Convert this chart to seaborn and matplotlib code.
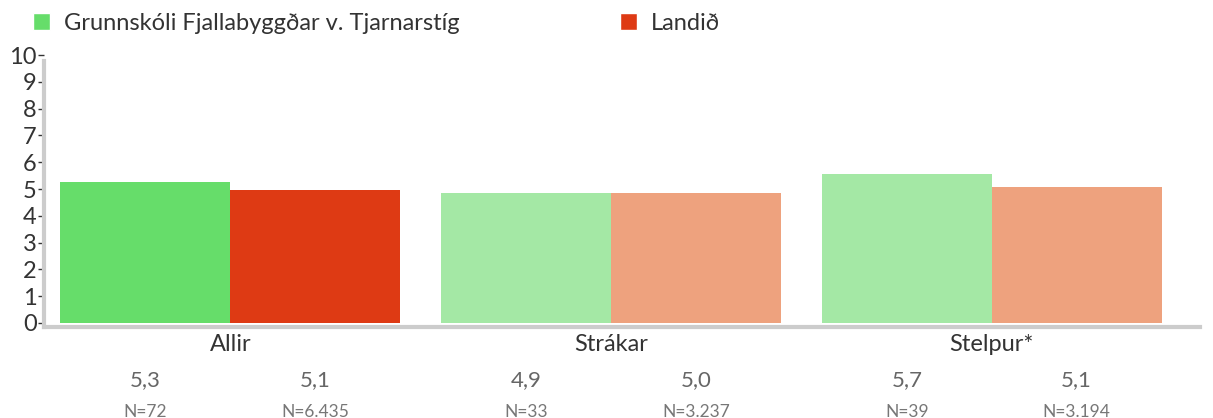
import pandas as pd
import seaborn as sns
import matplotlib
matplotlib.use('Agg')
import matplotlib.pyplot as plt
from matplotlib.patches import Patch

# data
groups = ["Allir", "Strákar", "Stelpur*"]
series = ["Grunnskóli Fjallabyggðar v. Tjarnarstíg", "Landið"]
school_vals = [5.25, 4.85, 5.56]
country_vals = [4.95, 4.85, 5.07]
school_labels = ["5,3", "4,9", "5,7"]
country_labels = ["5,1", "5,0", "5,1"]
school_n = ["N=72", "N=33", "N=39"]
country_n = ["N=6.435", "N=3.237", "N=3.194"]

green, red = "#66dd6a", "#de3a14"
light_green, light_red = "#a4e8a5", "#eea27e"
school_colors = [green, light_green, light_green]
country_colors = [red, light_red, light_red]

df = pd.DataFrame({
    "group": groups * 2,
    "series": [series[0]] * 3 + [series[1]] * 3,
    "value": school_vals + country_vals,
})

sns.set_style("white")
plt.rcParams['font.family'] = ['Lato', 'DejaVu Sans']

fig = plt.figure(figsize=(12.13, 4.18), dpi=100)
ax = fig.add_axes([0.036, 0.218, 0.953, 0.65])

sns.barplot(data=df, x="group", y="value", hue="series", order=groups,
            hue_order=series, palette=[green, red], saturation=1,
            width=0.892, legend=False, ax=ax)

# seaborn orders patches by hue level, then by category
for patch, c in zip(ax.patches, school_colors + country_colors):
    patch.set_facecolor(c)
    patch.set_edgecolor("none")

ax.set_ylim(-0.15, 10)
ax.set_xlim(-0.49, 2.546)
ax.set_yticks(range(0, 11))
ax.tick_params(axis="y", length=4, width=1, color="#333333", labelsize=17,
               labelcolor="#333333", pad=1, left=True)
ax.set_xticks([])
ax.set_xlabel("")
ax.set_ylabel("")
for s in ["top", "right"]:
    ax.spines[s].set_visible(False)
for s in ["left", "bottom"]:
    ax.spines[s].set_color("#cccccc")
    ax.spines[s].set_linewidth(3)
ax.spines["left"].set_bounds(-0.15, 9.8)

trans = matplotlib.transforms.blended_transform_factory(ax.transData, ax.transAxes)
off = 0.892 / 4
for i, g in enumerate(groups):
    ax.text(i, -0.066, g, transform=trans, ha="center", va="center",
            fontsize=17, color="#333333")
    ax.text(i - off, -0.195, school_labels[i], transform=trans, ha="center",
            va="center", fontsize=16, color="#666666")
    ax.text(i + off, -0.195, country_labels[i], transform=trans, ha="center",
            va="center", fontsize=16, color="#666666")
    ax.text(i - off, -0.312, school_n[i], transform=trans, ha="center",
            va="center", fontsize=12.5, color="#777777")
    ax.text(i + off, -0.312, country_n[i], transform=trans, ha="center",
            va="center", fontsize=12.5, color="#777777")

handles = [Patch(facecolor=green, label=series[0]), Patch(facecolor=red, label=series[1])]
fig.legend(handles=handles, loc="upper left", bbox_to_anchor=(0.01, 1.02), ncol=2,
           frameon=False, fontsize=17, handlelength=0.7, handleheight=0.7,
           handletextpad=0.6, columnspacing=6.8, labelcolor="#333333")

fig.savefig("out.png", dpi=100)
